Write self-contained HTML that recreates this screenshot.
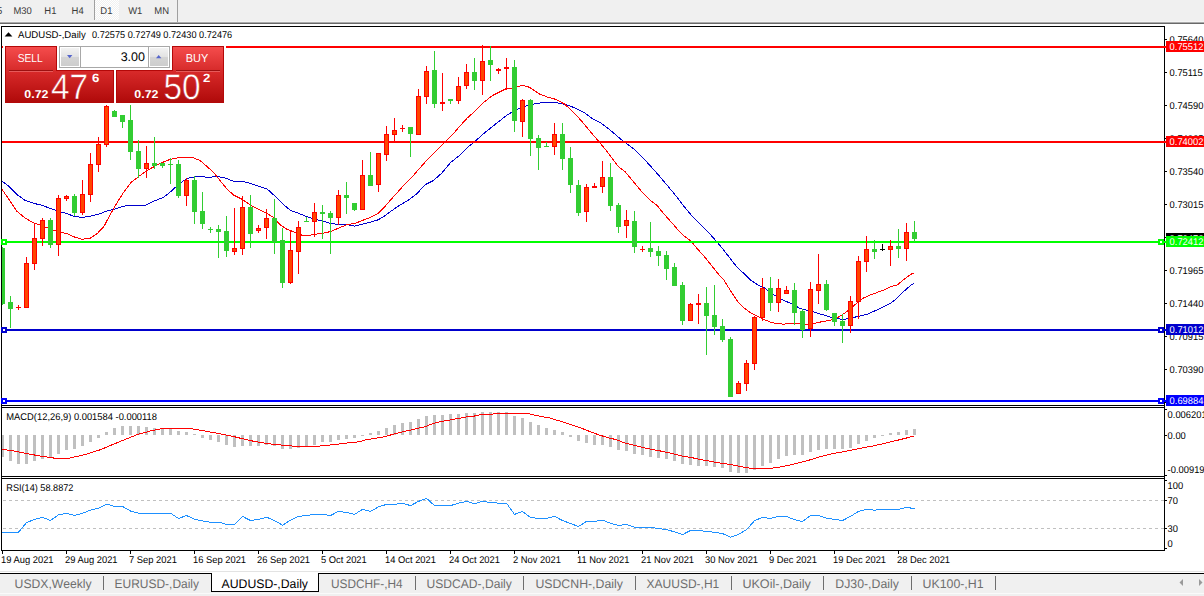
<!DOCTYPE html>
<html><head><meta charset="utf-8"><title>AUDUSD-,Daily</title>
<style>
html,body{margin:0;padding:0;background:#fff;overflow:hidden}
svg{display:block}
text{font-family:"Liberation Sans", sans-serif;text-rendering:geometricPrecision}
.cr{shape-rendering:crispEdges}
.ax{font-size:9.8px;fill:#000}
.dt{font-size:9.8px;fill:#000}
.tt{font-size:9.8px;fill:#000}
.tb{font-size:9.8px;fill:#3a3a3a}
.tab{font-size:12.5px;fill:#6e6e6e}
</style></head><body>
<svg width="1204" height="596" viewBox="0 0 1204 596">
<defs>
<linearGradient id="gt" x1="0" y1="0" x2="0" y2="1"><stop offset="0" stop-color="#f54c4c"/><stop offset="1" stop-color="#d62a2a"/></linearGradient>
<linearGradient id="gb" x1="0" y1="0" x2="0" y2="1"><stop offset="0" stop-color="#d82a2a"/><stop offset="1" stop-color="#b00a0a"/></linearGradient>
<linearGradient id="gs" x1="0" y1="0" x2="0" y2="1"><stop offset="0" stop-color="#f2f2f2"/><stop offset="0.5" stop-color="#e2e2e2"/><stop offset="0.5" stop-color="#d4d4d4"/><stop offset="1" stop-color="#cdcdcd"/></linearGradient>
<linearGradient id="gbt" gradientUnits="userSpaceOnUse" x1="0" y1="-27.5" x2="0" y2="3.5"><stop offset="0" stop-color="#d82a2a"/><stop offset="1" stop-color="#b00a0a"/></linearGradient>
<pattern id="chk" width="2" height="2" patternUnits="userSpaceOnUse"><rect width="2" height="2" fill="#f0f0f0"/><rect width="1" height="1" fill="#fff"/><rect x="1" y="1" width="1" height="1" fill="#fff"/></pattern>
<clipPath id="cm"><rect x="2" y="27" width="1162" height="378"/></clipPath>
</defs>
<rect width="1204" height="596" fill="#fff"/>

<g class="cr">
<rect x="0" y="0" width="1204" height="21" fill="#f0f0f0"/>
<rect x="0" y="21" width="1204" height="1" fill="#f5f5f5"/>
<rect x="0" y="22" width="1204" height="1" fill="#ababab"/>
<rect x="0" y="23" width="1204" height="1" fill="#696969"/>
<rect x="95" y="0" width="24" height="20" fill="url(#chk)"/>
<rect x="94" y="0" width="1" height="20" fill="#a0a0a0"/>
<rect x="177" y="0" width="1" height="22" fill="#a0a0a0"/>
</g>
<text transform="translate(-3 14) scale(0.965 1)" class="tb">5</text>
<text transform="translate(13.4 14) scale(0.965 1)" class="tb">M30</text>
<text transform="translate(44.3 14) scale(0.965 1)" class="tb">H1</text>
<text transform="translate(71.6 14) scale(0.965 1)" class="tb">H4</text>
<text transform="translate(100.3 14) scale(0.965 1)" class="tb">D1</text>
<text transform="translate(128.2 14) scale(0.965 1)" class="tb">W1</text>
<text transform="translate(154.3 14) scale(0.965 1)" class="tb">MN</text>
<g class="cr" clip-path="url(#cm)">
<polyline points="2.0,181.0 8.4,186.0 16.8,194.4 25.0,200.3 33.5,203.3 42.0,205.3 50.0,208.3 58.7,211.2 67.0,213.7 73.8,216.2 82.0,217.4 90.6,216.2 99.0,214.0 107.4,210.8 114.0,209.2 120.8,207.0 127.5,205.3 134.0,205.6 139.0,206.0 146.0,205.0 154.0,201.0 162.7,197.8 169.5,192.7 176.0,186.8 183.0,181.0 189.6,177.6 200.0,176.3 208.4,177.5 216.8,176.3 225.2,178.0 233.6,181.4 243.6,181.7 250.3,183.4 258.7,186.4 267.1,189.0 273.8,195.0 282.2,203.4 290.6,210.5 299.0,213.5 307.4,216.8 315.8,219.4 322.5,221.0 330.9,223.6 339.3,224.4 347.7,224.7 354.4,226.1 361.0,224.4 369.5,222.4 377.9,219.9 384.6,216.0 391.3,211.0 400.0,205.0 408.4,200.2 416.8,193.8 425.2,184.6 433.6,180.4 442.0,172.9 450.3,162.8 458.7,156.1 467.1,147.7 475.5,141.0 483.9,133.4 490.6,128.0 499.0,121.3 507.4,114.9 515.8,109.8 524.2,106.5 532.6,104.3 542.6,102.6 551.0,102.3 559.4,103.1 567.8,105.1 576.2,108.5 584.6,112.8 593.0,119.0 599.7,122.2 610.0,130.0 620.0,138.5 628.0,144.5 635.2,150.0 641.9,156.7 650.3,165.9 658.7,175.2 667.1,185.2 675.5,195.3 683.9,206.2 692.3,216.3 700.7,224.7 709.1,233.1 717.4,242.4 724.2,250.6 730.9,259.5 737.6,267.9 744.3,273.8 751.0,280.5 757.7,284.7 764.4,288.0 771.1,293.0 777.9,297.2 784.6,300.8 793.4,304.5 800.0,308.5 806.8,310.3 813.6,312.0 822.0,314.5 830.3,317.0 837.0,318.4 843.8,319.6 850.5,317.9 857.2,316.7 867.2,314.2 874.0,311.2 880.7,308.3 890.7,303.3 897.4,297.8 904.2,291.0 910.9,285.2 914.0,283.2" fill="none" stroke="#0000cd" stroke-width="1"/>
<polyline points="2.0,189.4 8.4,198.6 16.8,211.2 25.0,217.9 33.5,222.9 42.0,225.8 50.0,228.8 58.7,232.1 67.0,233.5 73.8,236.8 82.0,239.4 90.6,238.0 97.3,233.5 104.0,226.3 110.7,213.7 117.4,202.0 124.0,191.7 131.0,182.5 138.0,177.0 146.0,171.2 154.3,166.5 162.7,162.3 169.5,159.6 177.8,157.9 186.2,157.0 193.0,157.6 200.0,160.5 206.7,166.3 213.4,172.1 220.0,180.5 226.8,188.9 233.6,195.0 242.0,199.2 250.3,205.1 258.7,209.3 267.1,213.5 273.8,217.7 280.5,225.2 287.2,229.4 294.0,231.9 302.3,235.3 309.0,235.3 317.4,234.0 325.8,232.8 332.5,230.8 339.3,227.8 347.7,224.4 354.4,223.6 361.0,221.0 369.5,217.7 377.9,213.5 384.6,206.8 391.3,199.2 400.0,189.5 406.7,182.1 413.4,175.4 420.1,167.8 426.8,160.3 433.6,153.6 440.3,146.8 447.0,140.1 453.7,133.4 458.7,127.4 467.1,118.2 475.5,110.7 483.9,102.3 492.3,95.6 500.7,91.4 505.7,88.9 514.0,88.0 522.5,85.2 529.2,87.2 539.3,93.9 547.7,97.2 556.0,99.4 564.4,104.0 572.8,111.5 581.2,120.7 589.6,130.8 598.8,141.5 605.9,150.0 611.7,157.6 618.5,166.8 625.2,171.8 633.6,181.9 641.9,191.9 650.3,200.3 657.0,205.4 663.8,213.8 670.5,221.3 677.2,228.9 683.9,235.9 690.6,240.8 697.3,248.8 704.0,256.1 710.7,264.5 717.4,272.9 724.2,280.5 730.9,291.4 737.6,301.4 744.3,308.1 751.0,313.2 757.7,316.5 764.4,319.7 771.1,322.3 777.9,323.8 784.6,324.1 791.3,323.2 799.7,323.6 805.2,324.6 813.6,323.4 822.0,321.7 830.3,320.4 837.0,317.9 843.8,313.7 850.5,308.7 857.2,302.8 863.9,297.8 870.6,294.9 877.3,292.4 884.0,289.9 890.7,286.8 897.4,284.8 904.2,279.3 910.9,274.3 914.0,272.9" fill="none" stroke="#ff0000" stroke-width="1"/>
<rect x="2" y="46" width="1162" height="2" fill="#ff0000"/>
<rect x="2" y="141" width="1162" height="2" fill="#ff0000"/>
<rect x="2" y="241" width="1162" height="2" fill="#00ff00"/>
<rect x="2" y="329" width="1162" height="2" fill="#0000cd"/>
<rect x="2" y="400" width="1162" height="2" fill="#0000ff"/>
<rect x="2" y="247" width="1" height="58" fill="#32cd32"/>
<rect x="0" y="248" width="5" height="56" fill="#32cd32"/>
<rect x="10" y="296" width="1" height="32" fill="#32cd32"/>
<rect x="8" y="302" width="5" height="7" fill="#32cd32"/>
<rect x="18" y="305" width="1" height="5" fill="#ff0000"/>
<rect x="16" y="307" width="5" height="1" fill="#ff0000"/>
<rect x="26" y="257" width="1" height="51" fill="#ff0000"/>
<rect x="24" y="263" width="5" height="45" fill="#ff0000"/>
<rect x="25" y="264" width="3" height="43" fill="#ff4500"/>
<rect x="34" y="224" width="1" height="46" fill="#ff0000"/>
<rect x="32" y="238" width="5" height="26" fill="#ff0000"/>
<rect x="33" y="239" width="3" height="24" fill="#ff4500"/>
<rect x="42" y="218" width="1" height="28" fill="#ff0000"/>
<rect x="40" y="220" width="5" height="19" fill="#ff0000"/>
<rect x="41" y="221" width="3" height="17" fill="#ff4500"/>
<rect x="50" y="218" width="1" height="30" fill="#32cd32"/>
<rect x="48" y="220" width="5" height="25" fill="#32cd32"/>
<rect x="58" y="195" width="1" height="61" fill="#ff0000"/>
<rect x="56" y="198" width="5" height="47" fill="#ff0000"/>
<rect x="57" y="199" width="3" height="45" fill="#ff4500"/>
<rect x="66" y="195" width="1" height="6" fill="#ff0000"/>
<rect x="64" y="196" width="5" height="3" fill="#ff0000"/>
<rect x="65" y="197" width="3" height="1" fill="#ff4500"/>
<rect x="74" y="194" width="1" height="22" fill="#32cd32"/>
<rect x="72" y="196" width="5" height="17" fill="#32cd32"/>
<rect x="82" y="180" width="1" height="35" fill="#ff0000"/>
<rect x="80" y="194" width="5" height="19" fill="#ff0000"/>
<rect x="81" y="195" width="3" height="17" fill="#ff4500"/>
<rect x="90" y="153" width="1" height="49" fill="#ff0000"/>
<rect x="88" y="164" width="5" height="31" fill="#ff0000"/>
<rect x="89" y="165" width="3" height="29" fill="#ff4500"/>
<rect x="98" y="137" width="1" height="35" fill="#ff0000"/>
<rect x="96" y="144" width="5" height="21" fill="#ff0000"/>
<rect x="97" y="145" width="3" height="19" fill="#ff4500"/>
<rect x="106" y="105" width="1" height="42" fill="#ff0000"/>
<rect x="104" y="106" width="5" height="39" fill="#ff0000"/>
<rect x="105" y="107" width="3" height="37" fill="#ff4500"/>
<rect x="114" y="110" width="1" height="7" fill="#32cd32"/>
<rect x="112" y="111" width="5" height="6" fill="#32cd32"/>
<rect x="122" y="115" width="1" height="13" fill="#32cd32"/>
<rect x="120" y="115" width="5" height="7" fill="#32cd32"/>
<rect x="130" y="105" width="1" height="55" fill="#32cd32"/>
<rect x="128" y="120" width="5" height="32" fill="#32cd32"/>
<rect x="138" y="140" width="1" height="38" fill="#32cd32"/>
<rect x="136" y="151" width="5" height="18" fill="#32cd32"/>
<rect x="146" y="146" width="1" height="32" fill="#ff0000"/>
<rect x="144" y="163" width="5" height="6" fill="#ff0000"/>
<rect x="145" y="164" width="3" height="4" fill="#ff4500"/>
<rect x="154" y="137" width="1" height="32" fill="#32cd32"/>
<rect x="152" y="163" width="5" height="3" fill="#32cd32"/>
<rect x="162" y="163" width="1" height="5" fill="#32cd32"/>
<rect x="160" y="163" width="5" height="3" fill="#32cd32"/>
<rect x="170" y="158" width="1" height="26" fill="#32cd32"/>
<rect x="168" y="164" width="5" height="1" fill="#32cd32"/>
<rect x="178" y="160" width="1" height="38" fill="#32cd32"/>
<rect x="176" y="164" width="5" height="32" fill="#32cd32"/>
<rect x="186" y="178" width="1" height="28" fill="#ff0000"/>
<rect x="184" y="180" width="5" height="16" fill="#ff0000"/>
<rect x="185" y="181" width="3" height="14" fill="#ff4500"/>
<rect x="194" y="176" width="1" height="48" fill="#32cd32"/>
<rect x="192" y="180" width="5" height="32" fill="#32cd32"/>
<rect x="202" y="192" width="1" height="37" fill="#32cd32"/>
<rect x="200" y="211" width="5" height="13" fill="#32cd32"/>
<rect x="210" y="227" width="1" height="6" fill="#32cd32"/>
<rect x="208" y="229" width="5" height="1" fill="#32cd32"/>
<rect x="218" y="225" width="1" height="33" fill="#32cd32"/>
<rect x="216" y="229" width="5" height="3" fill="#32cd32"/>
<rect x="226" y="216" width="1" height="41" fill="#32cd32"/>
<rect x="224" y="231" width="5" height="20" fill="#32cd32"/>
<rect x="234" y="208" width="1" height="47" fill="#ff0000"/>
<rect x="232" y="248" width="5" height="4" fill="#ff0000"/>
<rect x="233" y="249" width="3" height="2" fill="#ff4500"/>
<rect x="242" y="196" width="1" height="59" fill="#ff0000"/>
<rect x="240" y="207" width="5" height="42" fill="#ff0000"/>
<rect x="241" y="208" width="3" height="40" fill="#ff4500"/>
<rect x="250" y="195" width="1" height="53" fill="#32cd32"/>
<rect x="248" y="207" width="5" height="27" fill="#32cd32"/>
<rect x="258" y="225" width="1" height="8" fill="#ff0000"/>
<rect x="256" y="228" width="5" height="3" fill="#ff0000"/>
<rect x="257" y="229" width="3" height="1" fill="#ff4500"/>
<rect x="266" y="209" width="1" height="30" fill="#ff0000"/>
<rect x="264" y="218" width="5" height="10" fill="#ff0000"/>
<rect x="265" y="219" width="3" height="8" fill="#ff4500"/>
<rect x="274" y="199" width="1" height="55" fill="#32cd32"/>
<rect x="272" y="218" width="5" height="24" fill="#32cd32"/>
<rect x="282" y="228" width="1" height="60" fill="#32cd32"/>
<rect x="280" y="240" width="5" height="43" fill="#32cd32"/>
<rect x="290" y="231" width="1" height="53" fill="#ff0000"/>
<rect x="288" y="250" width="5" height="33" fill="#ff0000"/>
<rect x="289" y="251" width="3" height="31" fill="#ff4500"/>
<rect x="298" y="221" width="1" height="53" fill="#ff0000"/>
<rect x="296" y="227" width="5" height="25" fill="#ff0000"/>
<rect x="297" y="228" width="3" height="23" fill="#ff4500"/>
<rect x="306" y="217" width="1" height="5" fill="#32cd32"/>
<rect x="304" y="221" width="5" height="1" fill="#32cd32"/>
<rect x="314" y="203" width="1" height="34" fill="#ff0000"/>
<rect x="312" y="212" width="5" height="10" fill="#ff0000"/>
<rect x="313" y="213" width="3" height="8" fill="#ff4500"/>
<rect x="322" y="205" width="1" height="34" fill="#32cd32"/>
<rect x="320" y="212" width="5" height="2" fill="#32cd32"/>
<rect x="330" y="211" width="1" height="43" fill="#32cd32"/>
<rect x="328" y="213" width="5" height="5" fill="#32cd32"/>
<rect x="338" y="190" width="1" height="35" fill="#ff0000"/>
<rect x="336" y="195" width="5" height="23" fill="#ff0000"/>
<rect x="337" y="196" width="3" height="21" fill="#ff4500"/>
<rect x="346" y="182" width="1" height="32" fill="#32cd32"/>
<rect x="344" y="195" width="5" height="3" fill="#32cd32"/>
<rect x="354" y="203" width="1" height="8" fill="#32cd32"/>
<rect x="352" y="203" width="5" height="7" fill="#32cd32"/>
<rect x="362" y="160" width="1" height="50" fill="#ff0000"/>
<rect x="360" y="175" width="5" height="35" fill="#ff0000"/>
<rect x="361" y="176" width="3" height="33" fill="#ff4500"/>
<rect x="370" y="152" width="1" height="34" fill="#32cd32"/>
<rect x="368" y="175" width="5" height="11" fill="#32cd32"/>
<rect x="378" y="153" width="1" height="39" fill="#ff0000"/>
<rect x="376" y="153" width="5" height="32" fill="#ff0000"/>
<rect x="377" y="154" width="3" height="30" fill="#ff4500"/>
<rect x="386" y="126" width="1" height="35" fill="#ff0000"/>
<rect x="384" y="134" width="5" height="21" fill="#ff0000"/>
<rect x="385" y="135" width="3" height="19" fill="#ff4500"/>
<rect x="394" y="118" width="1" height="24" fill="#ff0000"/>
<rect x="392" y="130" width="5" height="5" fill="#ff0000"/>
<rect x="393" y="131" width="3" height="3" fill="#ff4500"/>
<rect x="402" y="125" width="1" height="7" fill="#ff0000"/>
<rect x="400" y="128" width="5" height="1" fill="#ff0000"/>
<rect x="410" y="127" width="1" height="30" fill="#32cd32"/>
<rect x="408" y="127" width="5" height="7" fill="#32cd32"/>
<rect x="418" y="89" width="1" height="46" fill="#ff0000"/>
<rect x="416" y="96" width="5" height="39" fill="#ff0000"/>
<rect x="417" y="97" width="3" height="37" fill="#ff4500"/>
<rect x="426" y="66" width="1" height="38" fill="#ff0000"/>
<rect x="424" y="71" width="5" height="26" fill="#ff0000"/>
<rect x="425" y="72" width="3" height="24" fill="#ff4500"/>
<rect x="434" y="51" width="1" height="57" fill="#32cd32"/>
<rect x="432" y="70" width="5" height="34" fill="#32cd32"/>
<rect x="442" y="73" width="1" height="38" fill="#ff0000"/>
<rect x="440" y="102" width="5" height="2" fill="#ff0000"/>
<rect x="450" y="99" width="1" height="5" fill="#32cd32"/>
<rect x="448" y="99" width="5" height="2" fill="#32cd32"/>
<rect x="458" y="77" width="1" height="27" fill="#ff0000"/>
<rect x="456" y="86" width="5" height="15" fill="#ff0000"/>
<rect x="457" y="87" width="3" height="13" fill="#ff4500"/>
<rect x="466" y="64" width="1" height="25" fill="#ff0000"/>
<rect x="464" y="72" width="5" height="14" fill="#ff0000"/>
<rect x="465" y="73" width="3" height="12" fill="#ff4500"/>
<rect x="474" y="58" width="1" height="32" fill="#32cd32"/>
<rect x="472" y="72" width="5" height="9" fill="#32cd32"/>
<rect x="482" y="45" width="1" height="50" fill="#ff0000"/>
<rect x="480" y="61" width="5" height="20" fill="#ff0000"/>
<rect x="481" y="62" width="3" height="18" fill="#ff4500"/>
<rect x="490" y="46" width="1" height="35" fill="#32cd32"/>
<rect x="488" y="60" width="5" height="5" fill="#32cd32"/>
<rect x="498" y="68" width="1" height="6" fill="#ff0000"/>
<rect x="496" y="69" width="5" height="2" fill="#ff0000"/>
<rect x="506" y="58" width="1" height="32" fill="#ff0000"/>
<rect x="504" y="67" width="5" height="2" fill="#ff0000"/>
<rect x="514" y="60" width="1" height="72" fill="#32cd32"/>
<rect x="512" y="67" width="5" height="54" fill="#32cd32"/>
<rect x="522" y="99" width="1" height="38" fill="#ff0000"/>
<rect x="520" y="100" width="5" height="22" fill="#ff0000"/>
<rect x="521" y="101" width="3" height="20" fill="#ff4500"/>
<rect x="530" y="99" width="1" height="57" fill="#32cd32"/>
<rect x="528" y="100" width="5" height="39" fill="#32cd32"/>
<rect x="538" y="135" width="1" height="35" fill="#32cd32"/>
<rect x="536" y="138" width="5" height="10" fill="#32cd32"/>
<rect x="546" y="142" width="1" height="5" fill="#32cd32"/>
<rect x="544" y="146" width="5" height="1" fill="#32cd32"/>
<rect x="554" y="123" width="1" height="32" fill="#ff0000"/>
<rect x="552" y="134" width="5" height="13" fill="#ff0000"/>
<rect x="553" y="135" width="3" height="11" fill="#ff4500"/>
<rect x="562" y="123" width="1" height="47" fill="#32cd32"/>
<rect x="560" y="134" width="5" height="25" fill="#32cd32"/>
<rect x="570" y="147" width="1" height="46" fill="#32cd32"/>
<rect x="568" y="158" width="5" height="27" fill="#32cd32"/>
<rect x="578" y="180" width="1" height="36" fill="#32cd32"/>
<rect x="576" y="185" width="5" height="28" fill="#32cd32"/>
<rect x="586" y="184" width="1" height="38" fill="#ff0000"/>
<rect x="584" y="187" width="5" height="25" fill="#ff0000"/>
<rect x="585" y="188" width="3" height="23" fill="#ff4500"/>
<rect x="594" y="183" width="1" height="5" fill="#ff0000"/>
<rect x="592" y="186" width="5" height="2" fill="#ff0000"/>
<rect x="602" y="161" width="1" height="32" fill="#ff0000"/>
<rect x="600" y="177" width="5" height="10" fill="#ff0000"/>
<rect x="601" y="178" width="3" height="8" fill="#ff4500"/>
<rect x="610" y="163" width="1" height="48" fill="#32cd32"/>
<rect x="608" y="177" width="5" height="29" fill="#32cd32"/>
<rect x="618" y="203" width="1" height="30" fill="#32cd32"/>
<rect x="616" y="205" width="5" height="22" fill="#32cd32"/>
<rect x="626" y="210" width="1" height="28" fill="#ff0000"/>
<rect x="624" y="220" width="5" height="6" fill="#ff0000"/>
<rect x="625" y="221" width="3" height="4" fill="#ff4500"/>
<rect x="634" y="211" width="1" height="42" fill="#32cd32"/>
<rect x="632" y="221" width="5" height="26" fill="#32cd32"/>
<rect x="642" y="246" width="1" height="6" fill="#ff0000"/>
<rect x="640" y="249" width="5" height="1" fill="#ff0000"/>
<rect x="650" y="222" width="1" height="35" fill="#32cd32"/>
<rect x="648" y="248" width="5" height="4" fill="#32cd32"/>
<rect x="658" y="246" width="1" height="20" fill="#32cd32"/>
<rect x="656" y="251" width="5" height="5" fill="#32cd32"/>
<rect x="666" y="251" width="1" height="29" fill="#32cd32"/>
<rect x="664" y="255" width="5" height="14" fill="#32cd32"/>
<rect x="674" y="263" width="1" height="23" fill="#32cd32"/>
<rect x="672" y="267" width="5" height="19" fill="#32cd32"/>
<rect x="682" y="282" width="1" height="43" fill="#32cd32"/>
<rect x="680" y="285" width="5" height="36" fill="#32cd32"/>
<rect x="690" y="303" width="1" height="18" fill="#ff0000"/>
<rect x="688" y="304" width="5" height="17" fill="#ff0000"/>
<rect x="689" y="305" width="3" height="15" fill="#ff4500"/>
<rect x="698" y="294" width="1" height="30" fill="#ff0000"/>
<rect x="696" y="303" width="5" height="2" fill="#ff0000"/>
<rect x="706" y="287" width="1" height="68" fill="#32cd32"/>
<rect x="704" y="303" width="5" height="13" fill="#32cd32"/>
<rect x="714" y="285" width="1" height="50" fill="#32cd32"/>
<rect x="712" y="315" width="5" height="12" fill="#32cd32"/>
<rect x="722" y="319" width="1" height="23" fill="#32cd32"/>
<rect x="720" y="326" width="5" height="14" fill="#32cd32"/>
<rect x="730" y="337" width="1" height="60" fill="#32cd32"/>
<rect x="728" y="339" width="5" height="58" fill="#32cd32"/>
<rect x="738" y="381" width="1" height="13" fill="#ff0000"/>
<rect x="736" y="383" width="5" height="11" fill="#ff0000"/>
<rect x="737" y="384" width="3" height="9" fill="#ff4500"/>
<rect x="746" y="360" width="1" height="31" fill="#ff0000"/>
<rect x="744" y="363" width="5" height="21" fill="#ff0000"/>
<rect x="745" y="364" width="3" height="19" fill="#ff4500"/>
<rect x="754" y="316" width="1" height="54" fill="#ff0000"/>
<rect x="752" y="317" width="5" height="47" fill="#ff0000"/>
<rect x="753" y="318" width="3" height="45" fill="#ff4500"/>
<rect x="762" y="278" width="1" height="43" fill="#ff0000"/>
<rect x="760" y="288" width="5" height="30" fill="#ff0000"/>
<rect x="761" y="289" width="3" height="28" fill="#ff4500"/>
<rect x="770" y="277" width="1" height="34" fill="#32cd32"/>
<rect x="768" y="288" width="5" height="15" fill="#32cd32"/>
<rect x="778" y="279" width="1" height="33" fill="#ff0000"/>
<rect x="776" y="288" width="5" height="15" fill="#ff0000"/>
<rect x="777" y="289" width="3" height="13" fill="#ff4500"/>
<rect x="786" y="286" width="1" height="8" fill="#ff0000"/>
<rect x="784" y="290" width="5" height="4" fill="#ff0000"/>
<rect x="785" y="291" width="3" height="2" fill="#ff4500"/>
<rect x="794" y="283" width="1" height="42" fill="#32cd32"/>
<rect x="792" y="290" width="5" height="23" fill="#32cd32"/>
<rect x="802" y="309" width="1" height="29" fill="#32cd32"/>
<rect x="800" y="311" width="5" height="19" fill="#32cd32"/>
<rect x="810" y="282" width="1" height="55" fill="#ff0000"/>
<rect x="808" y="289" width="5" height="40" fill="#ff0000"/>
<rect x="809" y="290" width="3" height="38" fill="#ff4500"/>
<rect x="818" y="254" width="1" height="50" fill="#ff0000"/>
<rect x="816" y="284" width="5" height="7" fill="#ff0000"/>
<rect x="817" y="285" width="3" height="5" fill="#ff4500"/>
<rect x="826" y="280" width="1" height="31" fill="#32cd32"/>
<rect x="824" y="284" width="5" height="26" fill="#32cd32"/>
<rect x="834" y="313" width="1" height="13" fill="#32cd32"/>
<rect x="832" y="313" width="5" height="9" fill="#32cd32"/>
<rect x="842" y="314" width="1" height="29" fill="#32cd32"/>
<rect x="840" y="321" width="5" height="5" fill="#32cd32"/>
<rect x="850" y="296" width="1" height="37" fill="#ff0000"/>
<rect x="848" y="301" width="5" height="25" fill="#ff0000"/>
<rect x="849" y="302" width="3" height="23" fill="#ff4500"/>
<rect x="858" y="256" width="1" height="63" fill="#ff0000"/>
<rect x="856" y="261" width="5" height="41" fill="#ff0000"/>
<rect x="857" y="262" width="3" height="39" fill="#ff4500"/>
<rect x="866" y="236" width="1" height="36" fill="#ff0000"/>
<rect x="864" y="249" width="5" height="13" fill="#ff0000"/>
<rect x="865" y="250" width="3" height="11" fill="#ff4500"/>
<rect x="874" y="240" width="1" height="19" fill="#32cd32"/>
<rect x="872" y="249" width="5" height="3" fill="#32cd32"/>
<rect x="882" y="244" width="1" height="7" fill="#000"/>
<rect x="880" y="249" width="5" height="1" fill="#000"/>
<rect x="890" y="240" width="1" height="26" fill="#ff0000"/>
<rect x="888" y="246" width="5" height="4" fill="#ff0000"/>
<rect x="889" y="247" width="3" height="2" fill="#ff4500"/>
<rect x="898" y="229" width="1" height="29" fill="#32cd32"/>
<rect x="896" y="246" width="5" height="3" fill="#32cd32"/>
<rect x="906" y="223" width="1" height="38" fill="#ff0000"/>
<rect x="904" y="232" width="5" height="17" fill="#ff0000"/>
<rect x="905" y="233" width="3" height="15" fill="#ff4500"/>
<rect x="914" y="221" width="1" height="21" fill="#32cd32"/>
<rect x="912" y="232" width="5" height="7" fill="#32cd32"/>
</g>
<g class="cr">
<rect x="2" y="435" width="2" height="22" fill="#c0c0c0"/>
<rect x="9" y="435" width="3" height="26" fill="#c0c0c0"/>
<rect x="17" y="435" width="3" height="29" fill="#c0c0c0"/>
<rect x="25" y="435" width="3" height="29" fill="#c0c0c0"/>
<rect x="33" y="435" width="3" height="26" fill="#c0c0c0"/>
<rect x="41" y="435" width="3" height="24" fill="#c0c0c0"/>
<rect x="49" y="435" width="3" height="22" fill="#c0c0c0"/>
<rect x="57" y="435" width="3" height="19" fill="#c0c0c0"/>
<rect x="65" y="435" width="3" height="15" fill="#c0c0c0"/>
<rect x="73" y="435" width="3" height="14" fill="#c0c0c0"/>
<rect x="81" y="435" width="3" height="11" fill="#c0c0c0"/>
<rect x="89" y="435" width="3" height="7" fill="#c0c0c0"/>
<rect x="97" y="435" width="3" height="3" fill="#c0c0c0"/>
<rect x="105" y="432" width="3" height="3" fill="#c0c0c0"/>
<rect x="113" y="428" width="3" height="7" fill="#c0c0c0"/>
<rect x="121" y="426" width="3" height="9" fill="#c0c0c0"/>
<rect x="129" y="426" width="3" height="9" fill="#c0c0c0"/>
<rect x="137" y="426" width="3" height="9" fill="#c0c0c0"/>
<rect x="145" y="427" width="3" height="8" fill="#c0c0c0"/>
<rect x="153" y="428" width="3" height="7" fill="#c0c0c0"/>
<rect x="161" y="428" width="3" height="7" fill="#c0c0c0"/>
<rect x="169" y="429" width="3" height="6" fill="#c0c0c0"/>
<rect x="177" y="431" width="3" height="4" fill="#c0c0c0"/>
<rect x="185" y="432" width="3" height="3" fill="#c0c0c0"/>
<rect x="193" y="434" width="3" height="1" fill="#c0c0c0"/>
<rect x="201" y="435" width="3" height="3" fill="#c0c0c0"/>
<rect x="209" y="435" width="3" height="5" fill="#c0c0c0"/>
<rect x="217" y="435" width="3" height="7" fill="#c0c0c0"/>
<rect x="225" y="435" width="3" height="10" fill="#c0c0c0"/>
<rect x="233" y="435" width="3" height="12" fill="#c0c0c0"/>
<rect x="241" y="435" width="3" height="11" fill="#c0c0c0"/>
<rect x="249" y="435" width="3" height="11" fill="#c0c0c0"/>
<rect x="257" y="435" width="3" height="11" fill="#c0c0c0"/>
<rect x="265" y="435" width="3" height="10" fill="#c0c0c0"/>
<rect x="273" y="435" width="3" height="11" fill="#c0c0c0"/>
<rect x="281" y="435" width="3" height="14" fill="#c0c0c0"/>
<rect x="289" y="435" width="3" height="14" fill="#c0c0c0"/>
<rect x="297" y="435" width="3" height="13" fill="#c0c0c0"/>
<rect x="305" y="435" width="3" height="11" fill="#c0c0c0"/>
<rect x="313" y="435" width="3" height="10" fill="#c0c0c0"/>
<rect x="321" y="435" width="3" height="7" fill="#c0c0c0"/>
<rect x="329" y="435" width="3" height="7" fill="#c0c0c0"/>
<rect x="337" y="435" width="3" height="5" fill="#c0c0c0"/>
<rect x="345" y="435" width="3" height="4" fill="#c0c0c0"/>
<rect x="353" y="435" width="3" height="3" fill="#c0c0c0"/>
<rect x="361" y="435" width="3" height="1" fill="#c0c0c0"/>
<rect x="369" y="433" width="3" height="2" fill="#c0c0c0"/>
<rect x="377" y="431" width="3" height="4" fill="#c0c0c0"/>
<rect x="385" y="428" width="3" height="7" fill="#c0c0c0"/>
<rect x="393" y="425" width="3" height="10" fill="#c0c0c0"/>
<rect x="401" y="423" width="3" height="12" fill="#c0c0c0"/>
<rect x="409" y="422" width="3" height="13" fill="#c0c0c0"/>
<rect x="417" y="419" width="3" height="16" fill="#c0c0c0"/>
<rect x="425" y="416" width="3" height="19" fill="#c0c0c0"/>
<rect x="433" y="415" width="3" height="20" fill="#c0c0c0"/>
<rect x="441" y="415" width="3" height="20" fill="#c0c0c0"/>
<rect x="449" y="414" width="3" height="21" fill="#c0c0c0"/>
<rect x="457" y="414" width="3" height="21" fill="#c0c0c0"/>
<rect x="465" y="413" width="3" height="22" fill="#c0c0c0"/>
<rect x="473" y="413" width="3" height="22" fill="#c0c0c0"/>
<rect x="481" y="412" width="3" height="23" fill="#c0c0c0"/>
<rect x="489" y="412" width="3" height="23" fill="#c0c0c0"/>
<rect x="497" y="412" width="3" height="23" fill="#c0c0c0"/>
<rect x="505" y="412" width="3" height="23" fill="#c0c0c0"/>
<rect x="513" y="416" width="3" height="19" fill="#c0c0c0"/>
<rect x="521" y="418" width="3" height="17" fill="#c0c0c0"/>
<rect x="529" y="422" width="3" height="13" fill="#c0c0c0"/>
<rect x="537" y="425" width="3" height="10" fill="#c0c0c0"/>
<rect x="545" y="428" width="3" height="7" fill="#c0c0c0"/>
<rect x="553" y="430" width="3" height="5" fill="#c0c0c0"/>
<rect x="561" y="432" width="3" height="3" fill="#c0c0c0"/>
<rect x="569" y="435" width="3" height="2" fill="#c0c0c0"/>
<rect x="577" y="435" width="3" height="6" fill="#c0c0c0"/>
<rect x="585" y="435" width="3" height="8" fill="#c0c0c0"/>
<rect x="593" y="435" width="3" height="10" fill="#c0c0c0"/>
<rect x="601" y="435" width="3" height="10" fill="#c0c0c0"/>
<rect x="609" y="435" width="3" height="12" fill="#c0c0c0"/>
<rect x="617" y="435" width="3" height="15" fill="#c0c0c0"/>
<rect x="625" y="435" width="3" height="16" fill="#c0c0c0"/>
<rect x="633" y="435" width="3" height="19" fill="#c0c0c0"/>
<rect x="641" y="435" width="3" height="20" fill="#c0c0c0"/>
<rect x="649" y="435" width="3" height="22" fill="#c0c0c0"/>
<rect x="657" y="435" width="3" height="23" fill="#c0c0c0"/>
<rect x="665" y="435" width="3" height="24" fill="#c0c0c0"/>
<rect x="673" y="435" width="3" height="26" fill="#c0c0c0"/>
<rect x="681" y="435" width="3" height="29" fill="#c0c0c0"/>
<rect x="689" y="435" width="3" height="30" fill="#c0c0c0"/>
<rect x="697" y="435" width="3" height="31" fill="#c0c0c0"/>
<rect x="705" y="435" width="3" height="31" fill="#c0c0c0"/>
<rect x="713" y="435" width="3" height="32" fill="#c0c0c0"/>
<rect x="721" y="435" width="3" height="33" fill="#c0c0c0"/>
<rect x="729" y="435" width="3" height="37" fill="#c0c0c0"/>
<rect x="737" y="435" width="3" height="38" fill="#c0c0c0"/>
<rect x="745" y="435" width="3" height="38" fill="#c0c0c0"/>
<rect x="753" y="435" width="3" height="35" fill="#c0c0c0"/>
<rect x="761" y="435" width="3" height="31" fill="#c0c0c0"/>
<rect x="769" y="435" width="3" height="28" fill="#c0c0c0"/>
<rect x="777" y="435" width="3" height="24" fill="#c0c0c0"/>
<rect x="785" y="435" width="3" height="21" fill="#c0c0c0"/>
<rect x="793" y="435" width="3" height="20" fill="#c0c0c0"/>
<rect x="801" y="435" width="3" height="20" fill="#c0c0c0"/>
<rect x="809" y="435" width="3" height="17" fill="#c0c0c0"/>
<rect x="817" y="435" width="3" height="15" fill="#c0c0c0"/>
<rect x="825" y="435" width="3" height="14" fill="#c0c0c0"/>
<rect x="833" y="435" width="3" height="14" fill="#c0c0c0"/>
<rect x="841" y="435" width="3" height="14" fill="#c0c0c0"/>
<rect x="849" y="435" width="3" height="13" fill="#c0c0c0"/>
<rect x="857" y="435" width="3" height="9" fill="#c0c0c0"/>
<rect x="865" y="435" width="3" height="6" fill="#c0c0c0"/>
<rect x="873" y="435" width="3" height="3" fill="#c0c0c0"/>
<rect x="881" y="435" width="3" height="1" fill="#c0c0c0"/>
<rect x="889" y="433" width="3" height="2" fill="#c0c0c0"/>
<rect x="897" y="432" width="3" height="3" fill="#c0c0c0"/>
<rect x="905" y="430" width="3" height="5" fill="#c0c0c0"/>
<rect x="913" y="429" width="3" height="6" fill="#c0c0c0"/>
<polyline points="1.9,449.3 12.6,450.8 25.2,453.3 37.7,455.6 50.3,457.5 56.6,458.5 69.2,458.1 78.0,456.2 88.0,453.7 100.7,449.6 113.3,444.3 125.8,439.2 138.4,434.2 150.0,431.1 158.3,429.2 166.6,428.4 189.9,428.4 199.8,430.1 216.4,433.1 233.0,436.4 249.7,440.5 266.3,443.5 282.9,445.2 299.5,446.7 316.1,446.4 332.7,444.7 350.0,442.7 358.3,441.9 366.6,439.7 383.2,436.9 399.8,432.6 416.4,428.6 424.8,426.8 433.0,423.6 441.4,421.4 449.7,420.1 458.0,418.5 466.3,417.0 474.6,416.0 482.9,414.3 491.2,414.3 499.5,413.1 526.0,413.1 532.7,414.8 541.0,416.5 550.0,418.0 558.3,420.6 566.6,423.1 574.9,425.9 583.2,428.9 591.5,432.2 599.8,435.2 608.1,437.7 616.4,439.7 624.8,443.0 633.0,445.0 641.4,447.2 649.7,448.9 658.0,450.5 666.3,452.2 674.6,454.2 682.9,456.3 691.2,457.5 699.5,459.3 707.8,460.8 716.1,462.5 724.4,463.5 732.7,465.0 741.0,466.6 745.0,467.5 753.3,468.5 773.2,468.0 781.5,466.8 789.8,465.1 798.1,463.0 806.4,461.0 814.8,458.3 823.0,456.0 831.4,453.8 839.7,452.5 848.0,450.8 856.3,449.2 864.6,447.5 872.9,446.0 881.2,444.2 889.5,442.2 897.8,440.2 906.1,438.1 914.0,436.1" fill="none" stroke="#ff0000" stroke-width="1"/>
</g>
<g class="cr">
<line x1="3" y1="500.5" x2="1164" y2="500.5" stroke="#c0c0c0" stroke-width="1" stroke-dasharray="3 3"/>
<line x1="3" y1="528.5" x2="1164" y2="528.5" stroke="#c0c0c0" stroke-width="1" stroke-dasharray="3 3"/>
</g>
<g class="cr">
<polyline points="2.0,532.3 2.5,532.3 10.5,532.3 18.5,532.3 26.5,522.7 34.5,519.4 42.5,517.4 50.5,520.5 58.5,514.9 66.5,513.2 74.5,515.5 82.5,513.2 90.5,510.2 98.5,508.1 106.5,504.1 114.5,506.4 122.5,506.4 130.5,511.0 138.5,513.2 146.5,513.2 154.5,513.2 162.5,513.2 170.5,513.2 178.5,518.5 186.5,515.5 194.5,519.2 202.5,521.0 210.5,522.2 218.5,522.2 226.5,524.3 234.5,524.3 242.5,516.4 250.5,520.5 258.5,519.4 266.5,517.2 274.5,520.5 282.5,525.2 290.5,520.2 298.5,516.4 306.5,515.5 314.5,514.4 322.5,514.4 330.5,515.5 338.5,511.4 346.5,512.4 354.5,514.4 362.5,509.4 370.5,511.4 378.5,506.9 386.5,504.4 394.5,504.4 402.5,503.2 410.5,505.6 418.5,501.4 426.5,498.3 434.5,505.6 442.5,505.6 450.5,505.6 458.5,503.2 466.5,501.4 474.5,503.6 482.5,501.4 490.5,502.4 498.5,503.2 506.5,503.2 514.5,514.4 522.5,511.4 530.5,517.4 538.5,518.5 546.5,518.5 554.5,516.4 562.5,520.5 570.5,523.5 578.5,526.5 586.5,521.4 594.5,521.4 602.5,520.2 610.5,523.2 618.5,525.5 626.5,524.3 634.5,527.3 642.5,527.3 650.5,527.3 658.5,528.5 666.5,529.7 674.5,531.8 682.5,534.6 690.5,530.5 698.5,530.5 706.5,531.5 714.5,532.3 722.5,533.5 730.5,537.3 738.5,534.3 746.5,529.8 754.5,520.7 762.5,517.4 770.5,518.4 778.5,516.4 786.5,516.4 794.5,519.7 802.5,521.5 810.5,515.5 818.5,515.5 826.5,518.2 834.5,519.4 842.5,520.5 850.5,516.4 858.5,511.4 866.5,509.4 874.5,510.2 882.5,509.4 890.5,509.4 898.5,509.4 906.5,507.4 914.5,508.6" fill="none" stroke="#1e90ff" stroke-width="1"/>
</g>
<g class="cr">
<rect x="1" y="26" width="1164" height="1" fill="#000"/>
<rect x="1" y="26" width="1" height="525" fill="#000"/>
<rect x="1164" y="26" width="1" height="525" fill="#000"/>
<rect x="1" y="405" width="1164" height="1" fill="#000"/>
<rect x="1" y="407" width="1164" height="1" fill="#000"/>
<rect x="1" y="476" width="1164" height="1" fill="#000"/>
<rect x="1" y="478" width="1164" height="1" fill="#000"/>
<rect x="1" y="550" width="1164" height="1" fill="#000"/>
<rect x="2" y="406" width="1162" height="1" fill="#fff"/>
<rect x="2" y="477" width="1162" height="1" fill="#fff"/>
<rect x="1164" y="46" width="2" height="2" fill="#ff0000"/>
<rect x="1164" y="141" width="2" height="2" fill="#ff0000"/>
<rect x="1164" y="241" width="2" height="2" fill="#00ff00"/>
<rect x="1164" y="329" width="2" height="2" fill="#0000cd"/>
<rect x="1164" y="400" width="2" height="2" fill="#0000ff"/>
<rect x="1165" y="39" width="2" height="1" fill="#000"/>
<rect x="1165" y="72" width="2" height="1" fill="#000"/>
<rect x="1165" y="105" width="2" height="1" fill="#000"/>
<rect x="1165" y="138" width="2" height="1" fill="#000"/>
<rect x="1165" y="171" width="2" height="1" fill="#000"/>
<rect x="1165" y="204" width="2" height="1" fill="#000"/>
<rect x="1165" y="237" width="2" height="1" fill="#000"/>
<rect x="1165" y="270" width="2" height="1" fill="#000"/>
<rect x="1165" y="303" width="2" height="1" fill="#000"/>
<rect x="1165" y="336" width="2" height="1" fill="#000"/>
<rect x="1165" y="369" width="2" height="1" fill="#000"/>
<rect x="1165" y="402" width="2" height="1" fill="#000"/>
<rect x="1165" y="409" width="2" height="1" fill="#000"/>
<rect x="1165" y="435" width="2" height="1" fill="#000"/>
<rect x="1165" y="475" width="2" height="1" fill="#000"/>
<rect x="1165" y="480" width="2" height="1" fill="#000"/>
<rect x="1165" y="500" width="2" height="1" fill="#000"/>
<rect x="1165" y="528" width="2" height="1" fill="#000"/>
<rect x="1165" y="548" width="2" height="1" fill="#000"/>
<rect x="2" y="551" width="1" height="3" fill="#000"/>
<rect x="66" y="551" width="1" height="3" fill="#000"/>
<rect x="130" y="551" width="1" height="3" fill="#000"/>
<rect x="194" y="551" width="1" height="3" fill="#000"/>
<rect x="258" y="551" width="1" height="3" fill="#000"/>
<rect x="322" y="551" width="1" height="3" fill="#000"/>
<rect x="386" y="551" width="1" height="3" fill="#000"/>
<rect x="450" y="551" width="1" height="3" fill="#000"/>
<rect x="514" y="551" width="1" height="3" fill="#000"/>
<rect x="578" y="551" width="1" height="3" fill="#000"/>
<rect x="642" y="551" width="1" height="3" fill="#000"/>
<rect x="706" y="551" width="1" height="3" fill="#000"/>
<rect x="770" y="551" width="1" height="3" fill="#000"/>
<rect x="834" y="551" width="1" height="3" fill="#000"/>
<rect x="898" y="551" width="1" height="3" fill="#000"/>
</g>
<text transform="translate(1169.6 43) scale(0.955 1)" class="ax">0.75640</text>
<text transform="translate(1169.6 76) scale(0.955 1)" class="ax">0.75115</text>
<text transform="translate(1169.6 109) scale(0.955 1)" class="ax">0.74590</text>
<text transform="translate(1169.6 142) scale(0.955 1)" class="ax">0.74065</text>
<text transform="translate(1169.6 175) scale(0.955 1)" class="ax">0.73540</text>
<text transform="translate(1169.6 208) scale(0.955 1)" class="ax">0.73015</text>
<text transform="translate(1169.6 241) scale(0.955 1)" class="ax">0.72490</text>
<text transform="translate(1169.6 274) scale(0.955 1)" class="ax">0.71965</text>
<text transform="translate(1169.6 307) scale(0.955 1)" class="ax">0.71440</text>
<text transform="translate(1169.6 340) scale(0.955 1)" class="ax">0.70915</text>
<text transform="translate(1169.6 373) scale(0.955 1)" class="ax">0.70390</text>
<text transform="translate(1169.6 406) scale(0.955 1)" class="ax">0.69865</text>
<text transform="translate(1167.6 418) scale(0.955 1)" class="ax">0.006201</text>
<text transform="translate(1167.6 439) scale(0.955 1)" class="ax">0.00</text>
<text transform="translate(1167.6 473) scale(0.955 1)" class="ax">-0.00919</text>
<text transform="translate(1167.6 489) scale(0.955 1)" class="ax">100</text>
<text transform="translate(1167.6 504) scale(0.955 1)" class="ax">70</text>
<text transform="translate(1167.6 532) scale(0.955 1)" class="ax">30</text>
<text transform="translate(1167.6 547) scale(0.955 1)" class="ax">0</text>
<text transform="translate(1 563) scale(0.955 1)" class="dt">19 Aug 2021</text>
<text transform="translate(65 563) scale(0.955 1)" class="dt">29 Aug 2021</text>
<text transform="translate(129 563) scale(0.955 1)" class="dt">7 Sep 2021</text>
<text transform="translate(193 563) scale(0.955 1)" class="dt">16 Sep 2021</text>
<text transform="translate(257 563) scale(0.955 1)" class="dt">26 Sep 2021</text>
<text transform="translate(321 563) scale(0.955 1)" class="dt">5 Oct 2021</text>
<text transform="translate(385 563) scale(0.955 1)" class="dt">14 Oct 2021</text>
<text transform="translate(449 563) scale(0.955 1)" class="dt">24 Oct 2021</text>
<text transform="translate(513 563) scale(0.955 1)" class="dt">2 Nov 2021</text>
<text transform="translate(577 563) scale(0.955 1)" class="dt">11 Nov 2021</text>
<text transform="translate(641 563) scale(0.955 1)" class="dt">21 Nov 2021</text>
<text transform="translate(705 563) scale(0.955 1)" class="dt">30 Nov 2021</text>
<text transform="translate(769 563) scale(0.955 1)" class="dt">9 Dec 2021</text>
<text transform="translate(833 563) scale(0.955 1)" class="dt">19 Dec 2021</text>
<text transform="translate(897 563) scale(0.955 1)" class="dt">28 Dec 2021</text>
<g class="cr">
<rect x="1" y="239" width="6" height="6" fill="#00ff00"/>
<rect x="3" y="241" width="2" height="2" fill="#fff"/>
<rect x="1158" y="239" width="6" height="6" fill="#00ff00"/>
<rect x="1160" y="241" width="2" height="2" fill="#fff"/>
<rect x="1" y="327" width="6" height="6" fill="#0000cd"/>
<rect x="3" y="329" width="2" height="2" fill="#fff"/>
<rect x="1158" y="327" width="6" height="6" fill="#0000cd"/>
<rect x="1160" y="329" width="2" height="2" fill="#fff"/>
<rect x="1" y="398" width="6" height="6" fill="#0000ff"/>
<rect x="3" y="400" width="2" height="2" fill="#fff"/>
<rect x="1158" y="398" width="6" height="6" fill="#0000ff"/>
<rect x="1160" y="400" width="2" height="2" fill="#fff"/>
</g>
<g class="cr">
<rect x="1166" y="233" width="38" height="11" fill="#000"/>
</g>
<text transform="translate(1169.6 242) scale(0.955 1)" class="ax" style="fill:#fff">0.72476</text>
<g class="cr">
<rect x="1166" y="41" width="38" height="11" fill="#ff0000"/>
<rect x="1166" y="136" width="38" height="11" fill="#ff0000"/>
<rect x="1166" y="236" width="38" height="11" fill="#00ff00"/>
<rect x="1166" y="324" width="38" height="11" fill="#0000cd"/>
<rect x="1166" y="395" width="38" height="11" fill="#0000ff"/>
</g>
<text transform="translate(1169.6 50) scale(0.955 1)" class="ax" style="fill:#fff">0.75512</text>
<text transform="translate(1169.6 145) scale(0.955 1)" class="ax" style="fill:#fff">0.74002</text>
<text transform="translate(1169.6 245) scale(0.955 1)" class="ax" style="fill:#fff">0.72412</text>
<text transform="translate(1169.6 333) scale(0.955 1)" class="ax" style="fill:#fff">0.71012</text>
<text transform="translate(1169.6 404) scale(0.955 1)" class="ax" style="fill:#fff">0.69884</text>
<path d="M8.5 32.3 L12.4 36.6 L4.6 36.6 Z" fill="#000"/>
<text x="18" y="37.6" class="tt" textLength="67.7" lengthAdjust="spacingAndGlyphs">AUDUSD-,Daily</text>
<text x="92" y="37.6" class="tt" textLength="140.2" lengthAdjust="spacingAndGlyphs">0.72575 0.72749 0.72430 0.72476</text>
<text x="6.3" y="420" class="tt" textLength="150.7" lengthAdjust="spacingAndGlyphs">MACD(12,26,9) 0.001584 -0.000118</text>
<text x="6.3" y="491" class="tt" textLength="67.1" lengthAdjust="spacingAndGlyphs">RSI(14) 58.8872</text>
<g class="cr">
<rect x="3" y="44" width="223" height="61" fill="#fff"/>
</g>
<g class="cr">
<rect x="5" y="46" width="52" height="25" fill="#b40808"/>
<rect x="5" y="70" width="109" height="33" fill="#b40808"/>
<rect x="6" y="71" width="107" height="31" fill="url(#gb)"/>
<rect x="6" y="47" width="50" height="24" fill="url(#gt)"/>
<rect x="172" y="46" width="52" height="25" fill="#b40808"/>
<rect x="116" y="70" width="108" height="33" fill="#b40808"/>
<rect x="117" y="71" width="106" height="31" fill="url(#gb)"/>
<rect x="173" y="47" width="50" height="24" fill="url(#gt)"/>
</g>
<g class="cr">
<rect x="9" y="70" width="44" height="1" fill="#9c1010"/>
<rect x="9" y="71" width="44" height="1" fill="#e65a5a"/>
<rect x="176" y="70" width="44" height="1" fill="#9c1010"/>
<rect x="176" y="71" width="44" height="1" fill="#e65a5a"/>
<rect x="59" y="46" width="111" height="22" fill="#a8a8a8"/>
<rect x="60" y="47" width="109" height="20" fill="#fff"/>
<rect x="61" y="48" width="18" height="18" fill="url(#gs)"/>
<rect x="80" y="47" width="1" height="20" fill="#a8a8a8"/>
<rect x="150" y="48" width="18" height="18" fill="url(#gs)"/>
<rect x="148" y="47" width="1" height="20" fill="#a8a8a8"/>
</g>
<path d="M67 55 H72.4 L69.7 58.2 Z" fill="#5565cc"/>
<path d="M156 58.2 H161.4 L158.7 55 Z" fill="#5565cc"/>
<text x="145" y="61" class="" text-anchor="end" style="font-size:12.5px;fill:#000">3.00</text>
<text x="30.2" y="62" class="" text-anchor="middle" style="font-size:11.5px;fill:#fff" textLength="25" lengthAdjust="spacingAndGlyphs">SELL</text>
<text x="197" y="62" class="" text-anchor="middle" style="font-size:11.5px;fill:#fff" textLength="22.5" lengthAdjust="spacingAndGlyphs">BUY</text>
<text transform="translate(24.3 98) scale(1.1 1)" class="" style="font-size:11.3px;font-weight:bold;fill:#fff">0.72</text>
<text transform="translate(134.3 98) scale(1.1 1)" class="" style="font-size:11.3px;font-weight:bold;fill:#fff">0.72</text>
<text transform="translate(51 98.5) scale(0.94 1)" class="" style="font-size:35.5px;fill:#fff;stroke:url(#gbt);stroke-width:0.55px">47</text>
<text transform="translate(163.5 98.5) scale(0.94 1)" class="" style="font-size:35.5px;fill:#fff;stroke:url(#gbt);stroke-width:0.55px">50</text>
<text transform="translate(92 81.6) scale(1.1 1)" class="" style="font-size:12px;font-weight:bold;fill:#fff">6</text>
<text transform="translate(203 81.6) scale(1.1 1)" class="" style="font-size:12px;font-weight:bold;fill:#fff">2</text>
<g class="cr">
<rect x="0" y="571" width="1204" height="1" fill="#e3e3e3"/>
<rect x="0" y="573" width="1204" height="1" fill="#000"/>
<rect x="0" y="574" width="1204" height="22" fill="#f0f0f0"/>
<rect x="0" y="593" width="1204" height="1" fill="#fafafa"/>
<rect x="211" y="573" width="108" height="19" fill="#000"/>
<rect x="212" y="573" width="106" height="18" fill="#fff"/>
<rect x="103" y="576" width="1" height="14" fill="#6e6e6e"/>
<rect x="415" y="576" width="1" height="14" fill="#6e6e6e"/>
<rect x="523" y="576" width="1" height="14" fill="#6e6e6e"/>
<rect x="635" y="576" width="1" height="14" fill="#6e6e6e"/>
<rect x="731" y="576" width="1" height="14" fill="#6e6e6e"/>
<rect x="823" y="576" width="1" height="14" fill="#6e6e6e"/>
<rect x="911" y="576" width="1" height="14" fill="#6e6e6e"/>
<rect x="995" y="576" width="1" height="14" fill="#6e6e6e"/>
</g>
<text x="14.6" y="588" class="tab" textLength="77" lengthAdjust="spacingAndGlyphs">USDX,Weekly</text>
<text x="114.5" y="588" class="tab" textLength="84.5" lengthAdjust="spacingAndGlyphs">EURUSD-,Daily</text>
<text x="331" y="588" class="tab" textLength="71.7" lengthAdjust="spacingAndGlyphs">USDCHF-,H4</text>
<text x="426.6" y="588" class="tab" textLength="85.2" lengthAdjust="spacingAndGlyphs">USDCAD-,Daily</text>
<text x="535.4" y="588" class="tab" textLength="87.5" lengthAdjust="spacingAndGlyphs">USDCNH-,Daily</text>
<text x="646.5" y="588" class="tab" textLength="72.8" lengthAdjust="spacingAndGlyphs">XAUUSD-,H1</text>
<text x="742.4" y="588" class="tab" textLength="68.5" lengthAdjust="spacingAndGlyphs">UKOil-,Daily</text>
<text x="835.3" y="588" class="tab" textLength="63.6" lengthAdjust="spacingAndGlyphs">DJ30-,Daily</text>
<text x="922.5" y="588" class="tab" textLength="61.1" lengthAdjust="spacingAndGlyphs">UK100-,H1</text>
<text x="221.5" y="588" class="tab" style="fill:#000" textLength="86.5" lengthAdjust="spacingAndGlyphs">AUDUSD-,Daily</text>
<path d="M1183 579 V586 L1179.5 582.5 Z" fill="#9a9a9a"/>
<path d="M1199 579 V586 L1202.5 582.5 Z" fill="#9a9a9a"/>
</svg></body></html>
